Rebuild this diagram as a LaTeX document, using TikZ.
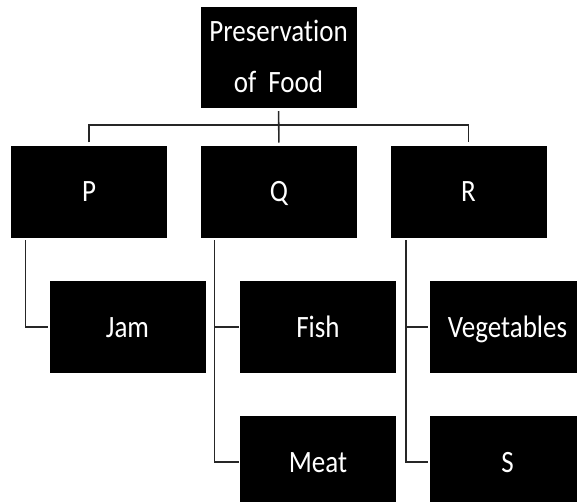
\documentclass[tikz,border=0pt]{standalone}
\usepackage{fontspec}
\setmainfont[Ligatures={NoCommon}]{Carlito}
\newcommand\vstretch[1]{\scalebox{1}[1.15]{#1}}
\begin{document}
\begin{tikzpicture}[x=1pt,y=-1pt,
  box/.style={fill=black, draw=black, minimum width=155pt, minimum height=91pt,
              inner sep=0pt, outer sep=0pt, text=white, font=\fontsize{27}{32}\selectfont},
  lbl/.style={box, text height=20pt, text depth=0pt},
  conn/.style={draw=black!85, line width=1.6pt}]
\useasboundingbox (0,0) rectangle (577,502);
\clip (0,0) rectangle (577,502);
\node[box, minimum height=92pt] (root) at (278.5,57)
  {\vstretch{\fontsize{27}{43.5}\selectfont\begin{tabular}{@{}c@{}}Preservation\\of\hspace{0.45em}Food\end{tabular}}};
\node[lbl] (P) at (89,192) {\vstretch{P}};
\node[lbl] (Q) at (279,192) {\vstretch{Q}};
\node[lbl] (R) at (468.5,192) {\vstretch{R}};
\node[lbl] (Jam) at (127.5,327) {\vstretch{Jam}};
\node[lbl] (Fish) at (318,327) {\vstretch{Fish}};
\node[lbl] (Veg) at (507.5,327) {\vstretch{Vegetables}};
\node[lbl] (Meat) at (318,462) {\vstretch{Meat}};
\node[lbl] (S) at (507.5,462) {\vstretch{S}};
\coordinate (bus) at (278,125);
\draw[conn, shorten <=4pt, shorten >=4pt] (root.south) -- (Q.north);
\draw[conn, shorten <=4pt, shorten >=4pt] (P.north) |- (bus) -| (R.north);
\draw[conn, shorten <=3pt, shorten >=2pt] ([xshift=14pt]P.south west) |- (Jam.west);
\draw[conn, shorten <=3pt, shorten >=2pt] ([xshift=13pt]Q.south west) |- (Fish.west);
\draw[conn, shorten <=3pt, shorten >=2pt] ([xshift=13pt]Q.south west) |- (Meat.west);
\draw[conn, shorten <=3pt, shorten >=2pt] ([xshift=15pt]R.south west) |- (Veg.west);
\draw[conn, shorten <=3pt, shorten >=2pt] ([xshift=15pt]R.south west) |- (S.west);
\end{tikzpicture}
\end{document}
